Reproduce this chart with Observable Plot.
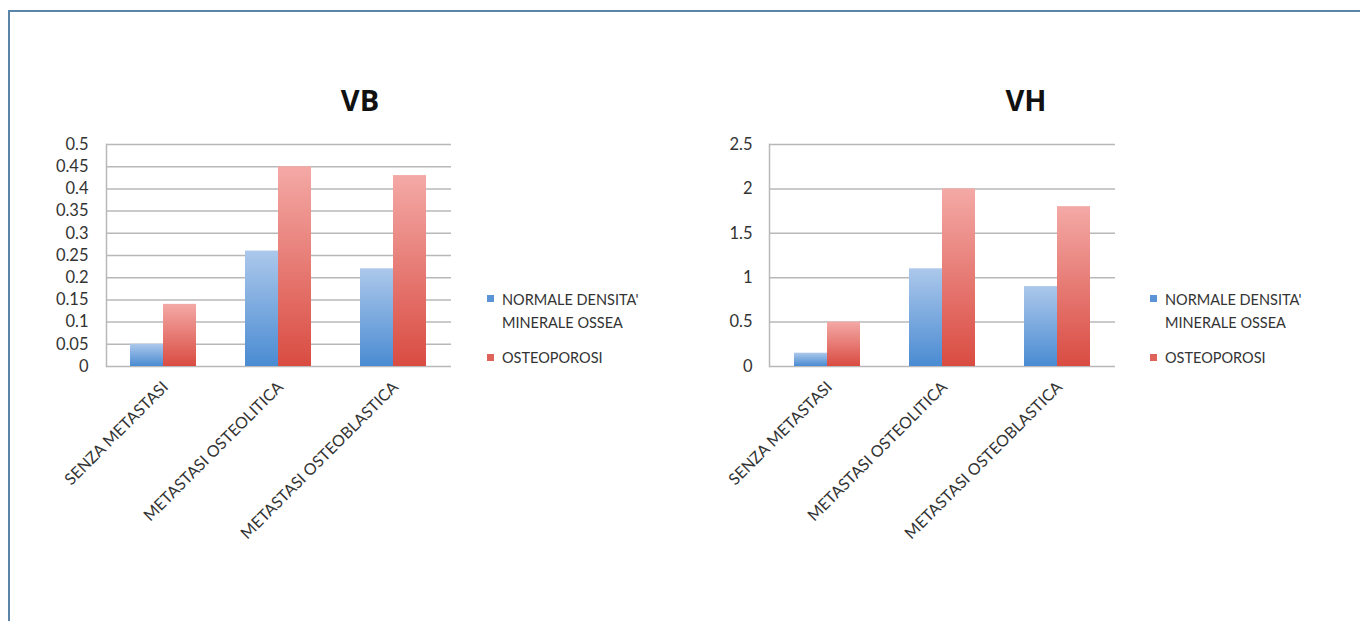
<!DOCTYPE html>
<html>
<head>
<meta charset="utf-8">
<script src="https://cdn.jsdelivr.net/npm/d3@7"></script>
<script src="https://cdn.jsdelivr.net/npm/@observablehq/plot@0.6"></script>
<style>
  html, body { margin:0; padding:0; background:#fff; width:1360px; height:621px; overflow:hidden; }
  body { position:relative; font-family: Lato, "Open Sans", sans-serif; }
  #border { position:absolute; left:8px; top:10px; width:2000px; height:2000px;
            border-top:2px solid #5a84a8; border-left:2px solid #5a84a8; }
  .chart { position:absolute; top:0; }
  .title { position:absolute; font: bold 29px "Open Sans", Lato, sans-serif; color:#111; transform:translateX(-50%); top:80px; }
  .legend { position:absolute; font: 14.5px Lato, "Open Sans", sans-serif; color:#333; line-height:23px; }
  .legend .sw { position:absolute; width:7px; height:7px; left:-15px; }
</style>
</head>
<body>
<div id="border"></div>
<div id="c1" class="chart" style="left:0px"></div>
<div id="c2" class="chart" style="left:660px"></div>
<div class="title" style="left:360px">VB</div>
<div class="title" style="left:1026px">VH</div>
<div id="leg1"></div>
<div id="leg2"></div>
<script>
const categories = ["SENZA METASTASI", "METASTASI OSTEOLITICA", "METASTASI OSTEOBLASTICA"];
const seriesNames = ["NORMALE DENSITA' MINERALE OSSEA", "OSTEOPOROSI"];
const vbNormale = [0.05, 0.26, 0.22];
const vbOsteoporosi = [0.14, 0.45, 0.43];
const vhNormale = [0.15, 1.1, 0.9];
const vhOsteoporosi = [0.5, 2.0, 1.8];
const vbTicks = [0, 0.05, 0.1, 0.15, 0.2, 0.25, 0.3, 0.35, 0.4, 0.45, 0.5];
const vhTicks = [0, 0.5, 1, 1.5, 2, 2.5];

function addDefs(svg, id) {
  const defs = d3.select(svg).insert("defs", ":first-child");
  const gb = defs.append("linearGradient").attr("id", id + "b").attr("x1", 0).attr("y1", 0).attr("x2", 0).attr("y2", 1);
  gb.append("stop").attr("offset", "0%").attr("stop-color", "#acc8eb");
  gb.append("stop").attr("offset", "100%").attr("stop-color", "#4a8bd2");
  const gr = defs.append("linearGradient").attr("id", id + "r").attr("x1", 0).attr("y1", 0).attr("x2", 0).attr("y2", 1);
  gr.append("stop").attr("offset", "0%").attr("stop-color", "#f4a9a6");
  gr.append("stop").attr("offset", "100%").attr("stop-color", "#d94c42");
}

function makeChart(id, normale, osteo, ticks, domain, opts) {
  const dataN = categories.map((c, i) => ({cat: c, v: normale[i]}));
  const dataO = categories.map((c, i) => ({cat: c, v: osteo[i]}));
  const svg = Plot.plot({
    width: opts.width, height: 560,
    marginLeft: opts.marginLeft, marginRight: 19, marginTop: 144, marginBottom: 194,
    style: {background: "transparent", fontFamily: "Lato, 'Open Sans', sans-serif"},
    x: {domain: categories, paddingInner: 0.426, paddingOuter: 0.213, label: null},
    y: {domain: domain, label: null},
    marks: [
      Plot.ruleY(ticks, {stroke: "#b8b8b8", strokeWidth: 1.5}),
      Plot.frame({anchor: "left", stroke: "#b8b8b8", strokeWidth: 1.5}),
      Plot.barY(dataN, {x: "cat", y: "v", fill: `url(#${id}b)`, insetRight: 33}),
      Plot.barY(dataO, {x: "cat", y: "v", fill: `url(#${id}r)`, insetLeft: 33}),
      Plot.axisY({ticks: ticks, tickSize: 0, tickPadding: opts.tickPad, tickFormat: d => String(d), fontSize: 16.5, fill: "#333", label: null}),
      Plot.axisX({tickSize: 0, tickPadding: 18, tickRotate: -45, fontSize: 16, fill: "#333", label: null, dx: 2})
    ]
  });
  addDefs(svg, id);
  document.getElementById(id).appendChild(svg);
}

makeChart("c1", vbNormale, vbOsteoporosi, vbTicks, [0, 0.5], {width: 470, marginLeft: 106, tickPad: 18});
makeChart("c2", vhNormale, vhOsteoporosi, vhTicks, [0, 2.5], {width: 474, marginLeft: 109, tickPad: 17});

function makeLegend(id, left) {
  const el = document.getElementById(id);
  el.className = "legend";
  el.style.left = left + "px";
  el.style.top = "288px";
  el.innerHTML =
    `<div style="position:relative">` +
    `<span class="sw" style="top:7px;background:#5b93d6"></span>NORMALE DENSITA'<br>MINERALE OSSEA</div>` +
    `<div style="position:relative;margin-top:12px">` +
    `<span class="sw" style="top:8px;background:#e0635b"></span>OSTEOPOROSI</div>`;
}
makeLegend("leg1", 502);
makeLegend("leg2", 1165);
</script>
</body>
</html>
